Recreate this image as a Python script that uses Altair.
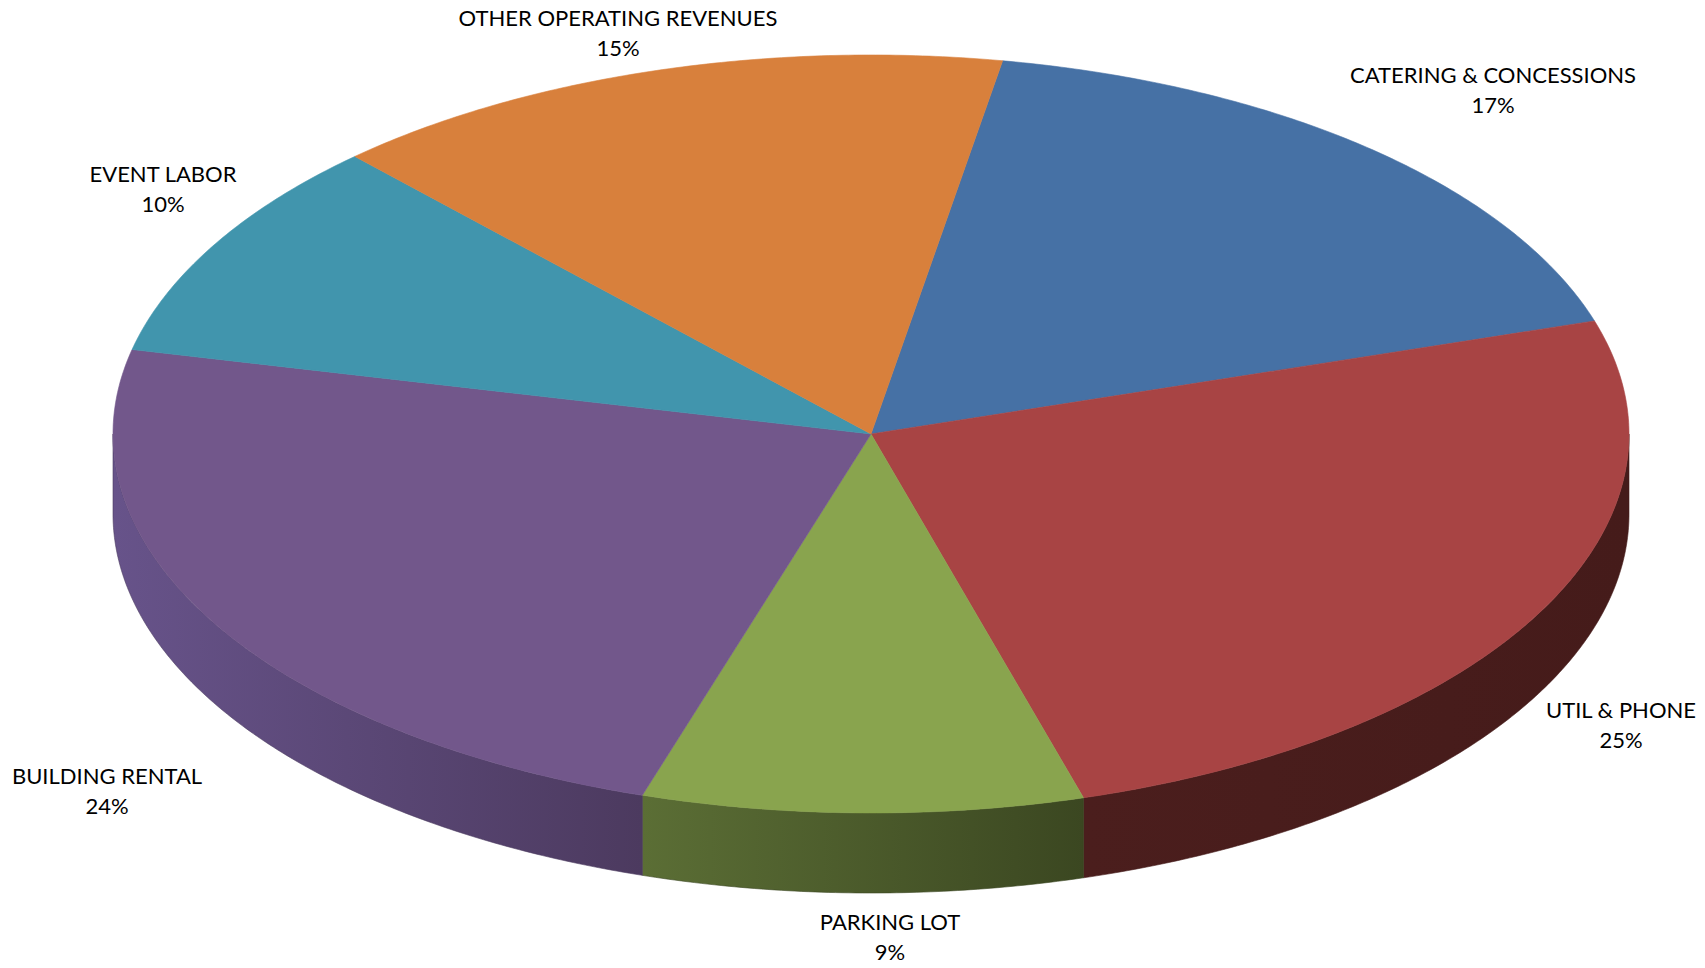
import numpy as np
import pandas as pd
import altair as alt

# ---- data ----
categories = ["CATERING & CONCESSIONS", "UTIL & PHONE", "PARKING LOT",
              "BUILDING RENTAL", "EVENT LABOR", "OTHER OPERATING REVENUES"]
values = [17.4, 25.3, 9.4, 23.7, 9.5, 14.7]
top_colors = ["#4671A5", "#A84444", "#89A44E", "#72578B", "#4195AD", "#D8803C"]
side_gradients = {
    "UTIL & PHONE": ["#4b1e1d", "#451b1a"],
    "PARKING LOT": ["#5b6e35", "#3b4721"],
    "BUILDING RENTAL": ["#67538a", "#4c3a5f"],
}
# label anchor offsets from pie centre (px), baseline of first line
label_dx = [622, 750, 19, -764, -708, -253]
label_dy = [351, -284, -496, -350, 252, 408]

# ---- geometry (3D pie projection) ----
W, H = 1689, 956
a, b, depth = 758.0, 379.0, 80.0
start_angle = 10.0
xdom = [-863, 826]
ydom = [-530, 426]

total = sum(values)
bounds = [start_angle]
for v in values:
    bounds.append(bounds[-1] + v / total * 360.0)

def ell(theta_deg, drop=0.0):
    t = np.radians(theta_deg)
    return a * np.sin(t), b * np.cos(t) - drop

top_rows, side_rows = [], []
for k, cat in enumerate(categories):
    t1, t2 = bounds[k], bounds[k + 1]
    n = max(int((t2 - t1) * 2), 4)
    ts = np.linspace(t1, t2, n)
    pts = [(0.0, 0.0)] + [ell(t) for t in ts] + [(0.0, 0.0)]
    for i, (x, y) in enumerate(pts):
        top_rows.append({"cat": cat, "i": i, "x": x, "y": y})
    lo, hi = max(t1, 90.0), min(t2, 270.0)
    if hi > lo:
        ts = np.linspace(lo, hi, max(int((hi - lo) * 2), 4))
        pts = [ell(t) for t in ts] + [ell(t, depth) for t in ts[::-1]]
        pts.append(pts[0])
        for i, (x, y) in enumerate(pts):
            side_rows.append({"cat": cat, "i": i, "x": x, "y": y})

top_df = pd.DataFrame(top_rows)
side_df = pd.DataFrame(side_rows)

xs = alt.Scale(domain=xdom, nice=False, zero=False)
ys = alt.Scale(domain=ydom, nice=False, zero=False)
X = alt.X("x:Q", scale=xs, axis=None)
Y = alt.Y("y:Q", scale=ys, axis=None)

layers = []
for cat, (c1, c2) in side_gradients.items():
    grad = alt.Gradient(gradient="linear", x1=0, y1=0, x2=1, y2=0,
                        stops=[alt.GradientStop(color=c1, offset=0),
                               alt.GradientStop(color=c2, offset=1)])
    layers.append(
        alt.Chart(side_df[side_df["cat"] == cat]).mark_line(
            fill=grad, stroke=c2, strokeWidth=0.6
        ).encode(x=X, y=Y, order=alt.Order("i:Q"), detail="cat:N")
    )

cscale = alt.Scale(domain=categories, range=top_colors)
layers.append(
    alt.Chart(top_df).mark_line(strokeWidth=0.6).encode(
        x=X, y=Y, order=alt.Order("i:Q"), detail="cat:N",
        fill=alt.Fill("cat:N", scale=cscale, legend=None),
        stroke=alt.Stroke("cat:N", scale=cscale, legend=None),
    )
)

lab_rows = []
for k, cat in enumerate(categories):
    pct = f"{round(values[k] / total * 100):.0f}%"
    lab_rows.append({"t": cat, "x": label_dx[k], "y": label_dy[k]})
    lab_rows.append({"t": pct, "x": label_dx[k], "y": label_dy[k] - 30})
lab_df = pd.DataFrame(lab_rows)
layers.append(
    alt.Chart(lab_df).mark_text(font="Lato", fontSize=22, color="#000000",
                                align="center", baseline="alphabetic").encode(
        x=X, y=Y, text="t:N")
)

chart = alt.layer(*layers).properties(
    width=W, height=H, padding=0, autosize=alt.AutoSizeParams(type="none")
).configure_view(stroke=None)

chart.save("out.html", embed_options={"renderer": "svg", "actions": False})
